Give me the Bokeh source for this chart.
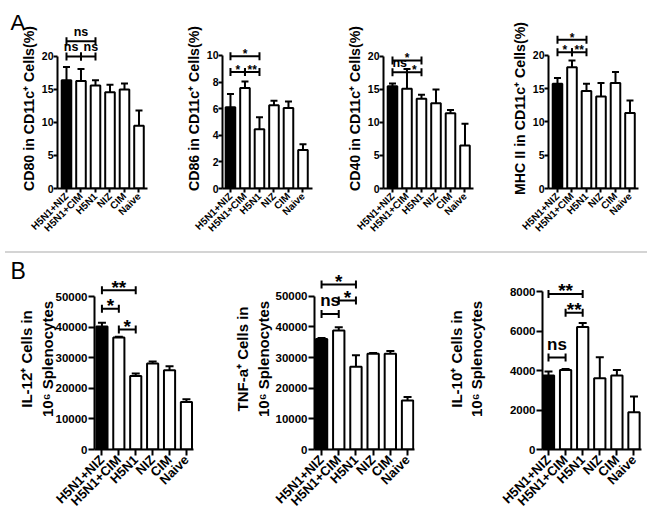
import math
from bokeh.plotting import figure
from bokeh.layouts import row, column
from bokeh.models import FixedTicker, Div, Range1d
from bokeh.core.properties import value
from bokeh.embed import file_html
from bokeh.resources import INLINE

FONT = "Liberation Sans"

categories = ["H5N1+NIZ", "H5N1+CIM", "H5N1", "NIZ", "CIM", "Naive"]

cd80_mean = [16.4, 16.3, 15.6, 14.6, 15.0, 9.5]
cd80_sem = [2.0, 1.8, 0.8, 1.1, 0.9, 2.3]
cd86_mean = [6.1, 7.55, 4.45, 6.25, 6.05, 2.9]
cd86_sem = [1.0, 0.5, 0.9, 0.35, 0.5, 0.42]
cd40_mean = [15.5, 15.1, 13.6, 12.9, 11.4, 6.5]
cd40_sem = [0.4, 3.0, 0.6, 2.1, 0.5, 3.3]
mhc_mean = [15.75, 18.25, 14.65, 13.85, 15.85, 11.35]
mhc_sem = [0.85, 1.0, 1.1, 2.0, 1.65, 1.9]
il12_mean = [40300, 36700, 24100, 28200, 26000, 15600]
il12_sem = [1200, 250, 800, 600, 1300, 900]
tnf_mean = [36000, 38800, 27000, 31200, 31200, 16000]
tnf_sem = [400, 1100, 3700, 300, 900, 1100]
il10_mean = [3750, 4030, 6200, 3610, 3750, 1890]
il10_sem = [200, 50, 210, 1060, 280, 790]

# significance brackets: (group a, group b, bracket height, label)
cd80_sig = [(0, 2, 22.3, "ns"), (0, 1, 20.0, "ns"), (1, 2, 20.0, "ns")]
cd86_sig = [(0, 2, 9.95, "*"), (0, 1, 8.75, "*"), (1, 2, 8.75, "**")]
cd40_sig = [(0, 2, 19.4, "*"), (0, 1, 17.6, "ns"), (1, 2, 17.6, "*")]
mhc_sig = [(0, 2, 22.35, "*"), (0, 1, 20.5, "*"), (1, 2, 20.5, "**")]
il12_sig = [(0, 2, 52200, "**"), (0, 1, 46100, "*"), (1, 2, 39350, "*")]
tnf_sig = [(0, 2, 53800, "*"), (1, 2, 48600, "*"), (0, 1, 44200, "ns")]
il10_sig = [(0, 2, 7880, "**"), (1, 2, 6920, "**"), (0, 1, 4660, "ns")]

top_ticks = [0, 5, 10, 15, 20]
cd86_ticks = [0, 2, 4, 6, 8, 10]
big_ticks = [0, 10000, 20000, 30000, 40000, 50000]
il10_ticks = [0, 2000, 4000, 6000, 8000]

labels_top = ["CD80 in CD11c\u207a Cells(%)", "CD86 in CD11c\u207a Cells(%)",
              "CD40 in CD11c\u207a Cells(%)", "MHC II in CD11c\u207a Cells(%)"]
labels_bot = ["IL-12\u207a Cells in\n10\u2076 Splenocytes",
              "TNF-a\u207a Cells in\n10\u2076 Splenocytes",
              "IL-10\u207a Cells in\n10\u2076 Splenocytes"]

TOP_STYLE = dict(tick_font="10.5px", label_font="14.2px", cat_font="10px", ns_font="12.5px",
                 star_font="12px", ns_off=-9, star_off=-2, cap=8, errcap=7, bw=0.66,
                 tick_out=4, tick_standoff=0)
BOT_STYLE = dict(tick_font="11.5px", label_font="15px", cat_font="13px", ns_font="17px",
                 star_font="19px", ns_off=-13, star_off=-3, cap=8, errcap=8, bw=0.66,
                 tick_out=6, tick_standoff=1)


def make_panel(mean, sem, sig, ylabel, yticks, fw, fh, x0, x1, y1, bl, br, bt, bb, st,
               label_standoff):
    p = figure(output_backend="svg", toolbar_location=None,
               frame_width=fw, frame_height=fh,
               x_range=Range1d(x0, x1), y_range=Range1d(0, y1),
               min_border_left=bl, min_border_right=br,
               min_border_top=bt, min_border_bottom=bb)
    p.outline_line_color = None
    p.xgrid.visible = False
    p.ygrid.visible = False
    p.background_fill_color = "white"
    p.border_fill_color = "white"

    for ax in (p.xaxis[0], p.yaxis[0]):
        ax.axis_line_width = 2
        ax.axis_line_color = "black"
        ax.major_tick_line_width = 2
        ax.major_tick_line_color = "black"
        ax.minor_tick_line_color = None
        ax.major_tick_in = 0
        ax.major_tick_out = st["tick_out"]
        ax.major_label_text_font = FONT
        ax.major_label_text_font_style = "bold"
        ax.major_label_text_color = "black"
    p.yaxis.ticker = FixedTicker(ticks=yticks)
    p.yaxis.bounds = (0, yticks[-1])
    p.yaxis.major_label_text_font_size = st["tick_font"]
    p.yaxis.major_label_standoff = st["tick_standoff"]
    p.yaxis.axis_label = ylabel
    p.yaxis.axis_label_text_font = FONT
    p.yaxis.axis_label_text_font_style = "bold"
    p.yaxis.axis_label_text_font_size = st["label_font"]
    p.yaxis.axis_label_text_color = "black"
    p.yaxis.axis_label_standoff = label_standoff

    xs = list(range(len(categories)))
    p.xaxis.ticker = FixedTicker(ticks=xs)
    p.xaxis.major_label_overrides = {i: c for i, c in enumerate(categories)}
    p.xaxis.major_label_orientation = math.pi / 4
    p.xaxis.major_label_text_font_size = st["cat_font"]
    p.xaxis.major_label_standoff = 2

    fills = ["black"] + ["white"] * (len(xs) - 1)
    tops = [m + s for m, s in zip(mean, sem)]
    p.segment(x0=xs, y0=mean, x1=xs, y1=tops, line_width=2, line_color="black")
    p.scatter(x=xs, y=tops, marker="dash", size=st["errcap"], line_width=2, line_color="black")
    p.vbar(x=xs, top=mean, bottom=0, width=st["bw"], fill_color=fills,
           line_color="black", line_width=2)

    for a, b, h, lab in sig:
        p.segment(x0=[a], y0=[h], x1=[b], y1=[h], line_width=2, line_color="black")
        p.scatter(x=[a, b], y=[h, h], marker="dash", angle=math.pi / 2, size=st["cap"],
                  line_width=2, line_color="black")
        is_ns = lab == "ns"
        tx = (a + b) / 2
        if is_ns:
            # two adjacent "ns" brackets at the same height: push texts apart
            for a2, b2, h2, lab2 in sig:
                if h2 == h and lab2 == "ns" and (a2, b2) != (a, b):
                    if b2 == a:
                        tx += 0.18
                    elif a2 == b:
                        tx -= 0.18
        p.text(x=[tx], y=[h], text=[lab], text_align="center",
               text_baseline="middle", text_font=value(FONT), text_font_style="bold",
               text_font_size=value(st["ns_font"] if is_ns else st["star_font"]),
               text_color="black", y_offset=st["ns_off"] if is_ns else st["star_off"])
    return p


def panel_letter(p, letter, size, offset, standoff):
    p.title.text = letter
    p.title.text_font = FONT
    p.title.text_font_style = "normal"
    p.title.text_font_size = size
    p.title.text_color = "black"
    p.title.align = "left"
    p.title.vertical_align = "bottom"
    p.title.offset = offset
    p.title.standoff = standoff


# top row (panel A)
TFH, TBT, TBB, TFW = 160, 28, 58, 90
SP = 14.5
a1 = make_panel(cd80_mean, cd80_sem, cd80_sig, labels_top[0], top_ticks,
                TFW, TFH, -0.62, -0.62 + TFW / SP, 24.24, 57, 26, TBT, TBB, TOP_STYLE, 2)
a2 = make_panel(cd86_mean, cd86_sem, cd86_sig, labels_top[1], cd86_ticks,
                TFW, TFH, -0.55, -0.55 + TFW / SP, 12.03, 49, 22, TBT, TBB, TOP_STYLE, 2)
a3 = make_panel(cd40_mean, cd40_sem, cd40_sig, labels_top[2], top_ticks,
                TFW, TFH, -0.62, -0.62 + TFW / SP, 24.24, 49, 26, TBT, TBB, TOP_STYLE, 2)
a4 = make_panel(mhc_mean, mhc_sem, mhc_sig, labels_top[3], top_ticks,
                TFW, TFH, -0.62, -0.62 + TFW / SP, 24.06, 49, 4, TBT, TBB, TOP_STYLE, 2)
panel_letter(a1, "A", "22px", -47, -12)

# bottom row (panel B)
BFH, BBT, BBB = 181, 10, 69
b1 = make_panel(il12_mean, il12_sem, il12_sig, labels_bot[0], big_ticks,
                99, BFH, -0.44, -0.44 + 99 / 16.9, 59306, 94, 35, BBT, BBB, BOT_STYLE, -3)
b2 = make_panel(tnf_mean, tnf_sem, tnf_sig, labels_bot[1], big_ticks,
                100, BFH, -0.41, -0.41 + 100 / 17.2, 59035, 86, 30, BBT, BBB, BOT_STYLE, 1)
b3 = make_panel(il10_mean, il10_sem, il10_sig, labels_bot[2], il10_ticks,
                99, BFH, -0.35, -0.35 + 99 / 17.1, 9165, 86, 13, BBT, BBB, BOT_STYLE, 22)
panel_letter(b1, "B", "23px", -84, -31)

sep = Div(text="", width=642, height=2, styles={"background-color": "#d4d4d4"})

layout = column(row(a1, a2, a3, a4), sep, row(b1, b2, b3))

open("out.html", "w").write(file_html(layout, INLINE))
